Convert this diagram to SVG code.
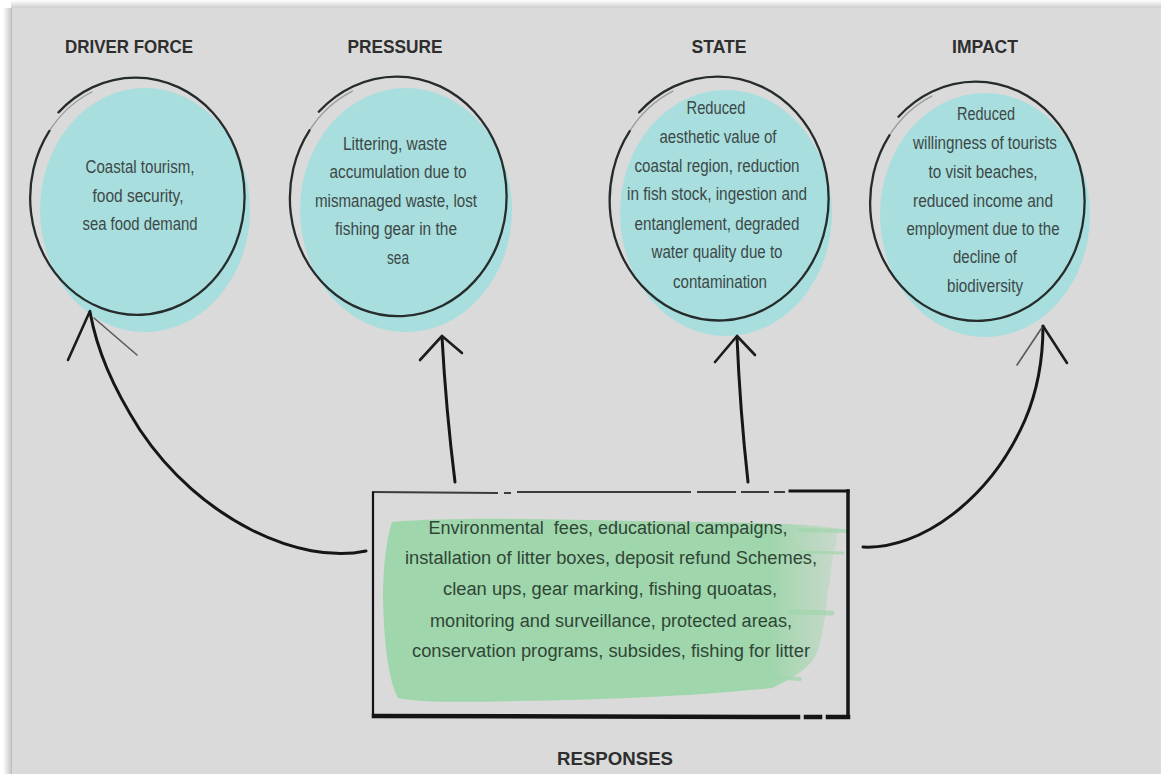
<svg xmlns="http://www.w3.org/2000/svg" width="1161" height="774" viewBox="0 0 1161 774">
<defs>
<linearGradient id="shL" x1="0" y1="0" x2="1" y2="0">
<stop offset="0" stop-color="#ffffff"/><stop offset="1" stop-color="#c9c9c9"/>
</linearGradient>
<linearGradient id="shT" x1="0" y1="0" x2="0" y2="1">
<stop offset="0" stop-color="#ffffff"/><stop offset="1" stop-color="#cfcfcf"/>
</linearGradient>
<linearGradient id="greenFade" x1="0" y1="0" x2="1" y2="0">
<stop offset="0" stop-color="#a0d6ac"/><stop offset="0.85" stop-color="#a0d6ac"/><stop offset="1" stop-color="#a0d6ac" stop-opacity="0.3"/>
</linearGradient>
</defs>
<style>
.title{font-family:"Liberation Sans Narrow","Liberation Sans",Arial,sans-serif;font-weight:bold;font-size:19px;fill:#2e2e2e;text-anchor:middle}
.ct{font-family:"Liberation Sans Narrow","Liberation Sans",Arial,sans-serif;font-size:17.5px;fill:#3c4848;text-anchor:middle}
.bt{font-family:"Liberation Sans Narrow","Liberation Sans",Arial,sans-serif;font-size:18px;fill:#2f4636;text-anchor:middle}
.fill{fill:#a8dedd}
.ring{fill:none;stroke:#262b2b;stroke-width:2.3;stroke-linecap:round}
.ringf{fill:none;stroke:#262b2b;stroke-width:1.4;stroke-opacity:0.35;stroke-linecap:round}
.conn{fill:none;stroke:#161616;stroke-width:3;stroke-linecap:round}
.barb{fill:none;stroke:#1c1c1c;stroke-width:2.6;stroke-linecap:round}
.barbL{fill:none;stroke:#5a5a5a;stroke-width:1.6;stroke-linecap:round}
.edge{fill:none;stroke:#141414;stroke-linecap:square}
</style>
<rect x="0" y="0" width="1161" height="774" fill="#ffffff"/>
<rect x="3" y="8" width="8" height="766" fill="url(#shL)"/>
<rect x="11" y="0" width="1150" height="8" fill="url(#shT)"/>
<rect x="11" y="8" width="1150" height="766" fill="#dadada"/>
<line x1="11.5" y1="8" x2="11.5" y2="774" stroke="#bdbdbd" stroke-width="1"/>

<g id="driver">
<text class="title" x="129" y="53" textLength="128" lengthAdjust="spacingAndGlyphs">DRIVER FORCE</text>
<ellipse class="fill" cx="145" cy="210" rx="105" ry="122"/>
<path class="ring" d="M58.5 112.4 A109 119 0 0 1 212.7 280.7 A107 117 0 0 1 49.4 130.9"/>
<path class="ringf" d="M49.4 130.9 A107 117 0 0 1 91.8 92"/>
<text class="ct" x="140" y="173" textLength="109" lengthAdjust="spacingAndGlyphs">Coastal tourism,</text>
<text class="ct" x="138" y="202" textLength="91" lengthAdjust="spacingAndGlyphs">food security,</text>
<text class="ct" x="140" y="230" textLength="115" lengthAdjust="spacingAndGlyphs">sea food demand</text>
</g>

<g id="pressure">
<text class="title" x="395" y="53" textLength="95" lengthAdjust="spacingAndGlyphs">PRESSURE</text>
<ellipse class="fill" cx="406" cy="210" rx="106" ry="122"/>
<path class="ring" d="M318.8 111.7 A110 120 0 0 1 474.4 281.4 A108 118 0 0 1 309.5 130.3"/>
<path class="ringf" d="M309.5 130.3 A108 118 0 0 1 352.4 91.1"/>
<text class="ct" x="395" y="150" textLength="104" lengthAdjust="spacingAndGlyphs">Littering, waste</text>
<text class="ct" x="398" y="178" textLength="137" lengthAdjust="spacingAndGlyphs">accumulation due to</text>
<text class="ct" x="396" y="207" textLength="162" lengthAdjust="spacingAndGlyphs">mismanaged waste, lost</text>
<text class="ct" x="396" y="235" textLength="122" lengthAdjust="spacingAndGlyphs">fishing gear in the</text>
<text class="ct" x="398" y="264" textLength="22" lengthAdjust="spacingAndGlyphs">sea</text>
</g>

<g id="state">
<text class="title" x="719" y="53" textLength="55" lengthAdjust="spacingAndGlyphs">STATE</text>
<ellipse class="fill" cx="726" cy="213" rx="106" ry="123"/>
<path class="ring" d="M639.1 112.3 A111 122 0 0 1 796.1 284.9 A109 120 0 0 1 629.7 131.1"/>
<path class="ringf" d="M629.7 131.1 A109 120 0 0 1 672.9 91.2"/>
<text class="ct" x="716" y="114" textLength="59" lengthAdjust="spacingAndGlyphs">Reduced</text>
<text class="ct" x="718" y="143" textLength="117" lengthAdjust="spacingAndGlyphs">aesthetic value of</text>
<text class="ct" x="717" y="172" textLength="165" lengthAdjust="spacingAndGlyphs">coastal region, reduction</text>
<text class="ct" x="717" y="200" textLength="180" lengthAdjust="spacingAndGlyphs">in fish stock, ingestion and</text>
<text class="ct" x="717" y="230" textLength="165" lengthAdjust="spacingAndGlyphs">entanglement, degraded</text>
<text class="ct" x="717" y="258" textLength="131" lengthAdjust="spacingAndGlyphs">water quality due to</text>
<text class="ct" x="720" y="288" textLength="94" lengthAdjust="spacingAndGlyphs">contamination</text>
</g>

<g id="impact">
<text class="title" x="985" y="53" textLength="66" lengthAdjust="spacingAndGlyphs">IMPACT</text>
<ellipse class="fill" cx="985" cy="215" rx="105" ry="122"/>
<path class="ring" d="M898.5 116.7 A109 120 0 0 1 1052.7 286.4 A107 118 0 0 1 889.4 135.3"/>
<path class="ringf" d="M889.4 135.3 A107 118 0 0 1 931.8 96.1"/>
<text class="ct" x="986" y="120" textLength="58" lengthAdjust="spacingAndGlyphs">Reduced</text>
<text class="ct" x="985" y="149" textLength="144" lengthAdjust="spacingAndGlyphs">willingness of tourists</text>
<text class="ct" x="983" y="178" textLength="109" lengthAdjust="spacingAndGlyphs">to visit beaches,</text>
<text class="ct" x="983" y="207" textLength="140" lengthAdjust="spacingAndGlyphs">reduced income and</text>
<text class="ct" x="983" y="235" textLength="153" lengthAdjust="spacingAndGlyphs">employment due to the</text>
<text class="ct" x="985" y="263" textLength="64" lengthAdjust="spacingAndGlyphs">decline of</text>
<text class="ct" x="985" y="292" textLength="76" lengthAdjust="spacingAndGlyphs">biodiversity</text>
</g>

<g id="responses">
<path fill="url(#greenFade)" d="M392 522 C450 517 560 519 640 521 C720 522 800 523 838 528 L836 545 C830 560 832 575 828 590 C826 610 824 630 818 650 C812 668 790 680 772 688 C700 696 600 700 520 701 C470 702 420 703 398 698 C388 680 384 640 383 600 C383 570 386 540 392 522 Z"/>
<g stroke="#a0d6ac" stroke-linecap="round" fill="none" opacity="0.7">
<line x1="800" y1="530" x2="846" y2="531" stroke-width="4"/>
<line x1="800" y1="552" x2="843" y2="553" stroke-width="3"/>
<line x1="790" y1="612" x2="832" y2="613" stroke-width="5"/>
<line x1="760" y1="676" x2="800" y2="679" stroke-width="4"/>
</g>
<path class="edge" stroke-width="2.2" d="M373 493 L373 716"/>
<path class="edge" stroke-width="2" stroke-opacity="0.8" d="M373 492 L497 493 M505 493 L510 493 M518 492 L690 492 M698 492 L735 492 M742 492 L768 492 M775 492 L784 492"/>
<path class="edge" stroke-width="3" d="M790 491 L848 491"/>
<path class="edge" stroke-width="3.5" d="M848 491 L848 716"/>
<path class="edge" stroke-width="4.5" d="M374 716 L798 717 M806 717 L820 717 M828 717 L848 717"/>
<text class="bt" x="608" y="534" textLength="359" lengthAdjust="spacingAndGlyphs" xml:space="preserve">Environmental  fees, educational campaigns,</text>
<text class="bt" x="611" y="564" textLength="412" lengthAdjust="spacingAndGlyphs">installation of litter boxes, deposit refund Schemes,</text>
<text class="bt" x="610" y="595" textLength="334" lengthAdjust="spacingAndGlyphs">clean ups, gear marking, fishing quoatas,</text>
<text class="bt" x="611" y="627" textLength="362" lengthAdjust="spacingAndGlyphs">monitoring and surveillance, protected areas,</text>
<text class="bt" x="611" y="657" textLength="398" lengthAdjust="spacingAndGlyphs">conservation programs, subsides, fishing for litter</text>
<text class="title" x="615" y="765" textLength="116" lengthAdjust="spacingAndGlyphs">RESPONSES</text>
</g>

<g id="connectors">
<path class="conn" d="M366 551 C300 565 200 520 140 430 C112 386 97 350 90 312"/>
<path class="barb" d="M90 311 L68 360"/>
<path class="barbL" d="M94 318 L137 355"/>
<path class="conn" d="M455 482 Q446 410 442 337"/>
<path class="barb" d="M442 336 L420 360 M442 336 L462 353"/>
<path class="conn" d="M748 482 Q740 410 737 337"/>
<path class="barb" d="M737 336 L715 362 M737 336 L755 355"/>
<path class="conn" d="M863 547 C920 550 990 500 1025 420 C1040 385 1043 350 1043 326"/>
<path class="barbL" d="M1043 326 L1017 365"/>
<path class="barb" d="M1043 326 L1067 363"/>
</g>
</svg>
